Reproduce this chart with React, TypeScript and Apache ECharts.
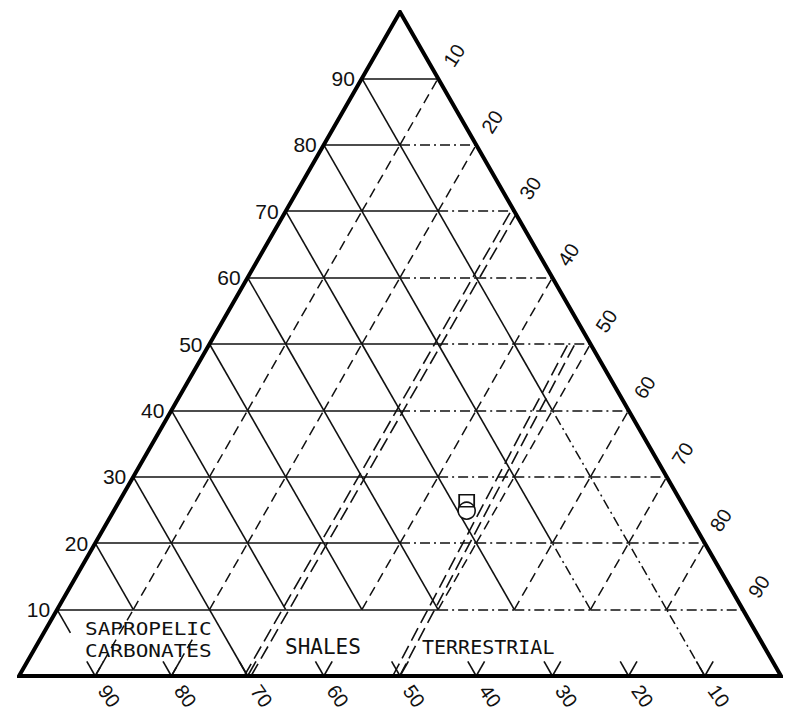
import React, { useEffect, useRef } from "react";
import * as echarts from "echarts";

// ---- data (ternary: a = top/left-axis value, l = bottom-axis value, r = right-axis value) ----
const leftTicks = [10, 20, 30, 40, 50, 60, 70, 80, 90];
const rightTicks = [10, 20, 30, 40, 50, 60, 70, 80, 90];
const bottomTicks = [90, 80, 70, 60, 50, 40, 30, 20, 10];
const gridLevels = [10, 20, 30, 40, 50, 60, 70, 80, 90];
const fieldCarbonates = ["SAPROPELIC", "CARBONATES"];
const fieldShales = "SHALES";
const fieldTerrestrial = "TERRESTRIAL";
// field boundaries, endpoints as [a, r]
const boundaryA: [number, number][] = [[0, 30], [70, 30]];
const boundaryB: [number, number][] = [[0, 49.5], [50, 47.5]];
// sample point
const sampleA = [25.5];
const sampleR = [46];

const tern = (a: number, r: number): [number, number] => [r + a / 2, a];

type Seg = { coords: [number, number][] };

function buildGrid() {
  const solid: Seg[] = [];
  const dashdot: Seg[] = [];
  const dashed: Seg[] = [];
  const seg = (p: [number, number], q: [number, number]): Seg => ({ coords: [tern(p[0], p[1]), tern(q[0], q[1])] });
  // horizontal (constant a)
  for (const a of gridLevels) {
    for (let r0 = 0; r0 + 10 <= 100 - a + 1e-9; r0 += 10) {
      const mid = r0 + 5 + a / 2;
      (mid < 54 ? solid : dashdot).push(seg([a, r0], [a, r0 + 10]));
    }
  }
  // descending (constant l)
  for (const l of gridLevels) {
    const top = 100 - l;
    for (let a0 = 0; a0 + 10 <= top + 1e-9; a0 += 10) {
      const p: [number, number] = [a0, 100 - l - a0];
      const q: [number, number] = [a0 + 10, 100 - l - a0 - 10];
      if (a0 === 0) {
        if (l === 70) solid.push(seg(p, q));
        else if (l === 10) dashdot.push(seg(p, q));
        continue;
      }
      const mid = 100 - l - a0 - 5 + (a0 + 5) / 2;
      (mid < 70 ? solid : dashdot).push(seg(p, q));
    }
  }
  // ascending (constant r)
  for (const r of gridLevels) {
    if (r === 30) continue;
    for (let a0 = 0; a0 + 10 <= 100 - r + 1e-9; a0 += 10) {
      if (a0 === 0) {
        if (r === 10) dashed.push(seg([0, r], [10, r]));
        else if (r === 20) dashed.push(seg([0, r], [6, r]));
        continue;
      }
      dashed.push(seg([a0, r], [a0 + 10, r]));
    }
  }
  // short V stubs at the bottom ticks
  for (const l of bottomTicks) {
    const r = 100 - l;
    solid.push(seg([0, r], [2.2, r - 2.2]));
    solid.push(seg([0, r], [2.2, r]));
  }
  solid.push(seg([10, 0], [6.5, 3.5]));
  return { solid, dashdot, dashed };
}

function doubleLine(pts: [number, number][], off: number): Seg[] {
  return [-off, off].map((o) => ({ coords: pts.map(([a, r]) => tern(a, r + o)) }));
}

export default function App() {
  const ref = useRef<HTMLDivElement>(null);
  useEffect(() => {
    if (!ref.current) return;
    const chart = echarts.init(ref.current, undefined, { renderer: "svg" });
    const { solid, dashdot, dashed } = buildGrid();
    const ink = "#111";
    const boundary = [...doubleLine(boundaryA, 0.45), ...doubleLine(boundaryB, 0.45)];
    const samples = sampleA.map((a, i) => tern(a, sampleR[i]));
    chart.setOption({
      animation: false,
      backgroundColor: "#fff",
      grid: { left: 19, right: 16, top: 12, bottom: 41 },
      xAxis: { type: "value", min: 0, max: 100, show: false },
      yAxis: { type: "value", min: 0, max: 100, show: false },
      series: [
        {
          type: "lines", coordinateSystem: "cartesian2d", silent: true, data: solid,
          lineStyle: { color: ink, width: 1.6, opacity: 1, type: "solid", curveness: 0 },
        },
        {
          type: "lines", coordinateSystem: "cartesian2d", silent: true, data: dashdot,
          lineStyle: { color: ink, width: 1.5, opacity: 1, type: [10, 4, 2, 4], curveness: 0 },
        },
        {
          type: "lines", coordinateSystem: "cartesian2d", silent: true, data: dashed,
          lineStyle: { color: ink, width: 1.5, opacity: 1, type: [10, 6], curveness: 0 },
        },
        {
          type: "lines", coordinateSystem: "cartesian2d", silent: true, data: boundary,
          lineStyle: { color: ink, width: 1.6, opacity: 1, type: [14, 6], curveness: 0 },
        },
        {
          type: "line", silent: true, symbol: "none",
          data: [tern(0, 50), tern(0, 100), tern(100, 0), tern(0, 0), tern(0, 50)],
          lineStyle: { color: "#000", width: 4, join: "miter", miterLimit: 20 },
        },
        {
          type: "scatter", silent: true, symbol: "circle", symbolSize: 17, symbolOffset: [0, 4], z: 5,
          data: samples,
          itemStyle: { color: "#fff", borderColor: ink, borderWidth: 1.6, opacity: 1 },
        },
        {
          type: "scatter", silent: true, symbol: "rect", symbolSize: [15, 12], symbolOffset: [0, -6], z: 6,
          data: samples,
          itemStyle: { color: "rgba(255,255,255,0)", borderColor: ink, borderWidth: 1.6, opacity: 1 },
        },
      ],
    });

    const px = (a: number, r: number) => chart.convertToPixel({ gridIndex: 0 }, tern(a, r)) as number[];
    const numFont = { fontSize: 21, fontFamily: "Liberation Sans", fill: ink };
    const graphic: any[] = [];
    leftTicks.forEach((a) => {
      const [x, y] = px(a, 0);
      graphic.push({ type: "text", x: x - 7, y, style: { text: String(a), ...numFont, align: "right", verticalAlign: "middle" } });
    });
    rightTicks.forEach((r) => {
      const [x, y] = px(100 - r, r);
      graphic.push({
        type: "text", x: x + 16, y: y - 23, rotation: (57 * Math.PI) / 180,
        style: { text: String(r), ...numFont, fontSize: 20, align: "center", verticalAlign: "middle" },
      });
    });
    bottomTicks.forEach((l) => {
      const [x, y] = px(0, 100 - l);
      graphic.push({
        type: "text", x: x + 14, y: y + 20, rotation: (-55 * Math.PI) / 180,
        style: { text: String(l), ...numFont, fontSize: 20, align: "center", verticalAlign: "middle" },
      });
    });
    const monoFont = { fontSize: 20, fontFamily: "DejaVu Sans Mono", fill: ink };
    graphic.push({ type: "text", x: 85, y: 629, scaleX: 1.17, style: { text: fieldCarbonates[0], ...monoFont, fontSize: 18, align: "left", verticalAlign: "middle" } });
    graphic.push({ type: "text", x: 85, y: 651, scaleX: 1.17, style: { text: fieldCarbonates[1], ...monoFont, fontSize: 18, align: "left", verticalAlign: "middle" } });
    graphic.push({ type: "text", x: 285, y: 647, style: { text: fieldShales, ...monoFont, fontSize: 21, align: "left", verticalAlign: "middle" } });
    graphic.push({ type: "text", x: 422, y: 647, style: { text: fieldTerrestrial, ...monoFont, align: "left", verticalAlign: "middle" } });
    chart.setOption({ graphic });

    return () => chart.dispose();
  }, []);
  return (
    <div
      ref={ref}
      style={{ position: "fixed", left: 0, top: 0, width: 797, height: 717, background: "#fff" }}
    />
  );
}
